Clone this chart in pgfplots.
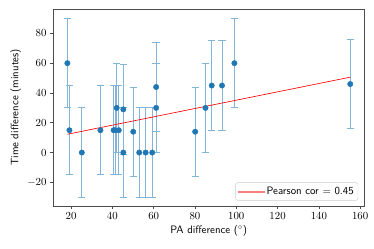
\documentclass[border=0pt]{standalone}
\usepackage{pgfplots}
\pgfplotsset{compat=1.18}
\usepackage{pgfplotstable}
\definecolor{c0}{HTML}{1F77B4}
\colorlet{c0l}{c0!55!white}
\definecolor{legred}{HTML}{FF8080}
\pgfplotstableread{
x y e
18.2 60 30
19.2 15 30
25.2 0 30
34.2 15 30
40.6 15 30
41.3 15 30
42.1 30 30
43.1 15 30
45.3 29 30
45.3 0 30
50.1 14 30
53.0 0 30
56.1 0 30
59.3 0 30
61.2 44 30
61.2 30 30
80.1 14 30
85.1 30 30
88.1 45 30
93.1 45 30
99.1 60 30
155.2 46 30
}\pts
\begin{document}
\begin{tikzpicture}
\begin{axis}[
  scale only axis,
  width=288pt, height=182.4pt,
  xmin=11.4, xmax=162, ymin=-35.8, ymax=96.4,
  xtick={20,40,...,160}, ytick={-20,0,20,40,60,80},
  tick align=outside, major tick length=2.8pt,
  tick style={black!70, line width=0.6pt},
  axis line style={black!70, line width=0.6pt},
  xtick pos=bottom, ytick pos=left,
  xlabel={\sffamily PA difference ($^\circ$)},
  ylabel={\sffamily Time difference (minutes)},
  xlabel style={yshift=2pt},
  ylabel style={yshift=-1pt},
  legend cell align=left,
  legend style={at={(1,0)}, anchor=south east, xshift=-5.6pt, yshift=4.9pt,
    draw=black!20, rounded corners=2pt, inner sep=2pt,
    font=\sffamily, row sep=2pt},
]
\addplot[only marks, mark=*, mark size=2.5pt, mark options={fill=c0, draw=c0},
  forget plot,
  error bars/.cd, y dir=both, y explicit,
  error bar style={c0l, line width=0.9pt},
  error mark options={rotate=90, mark size=3.4pt, c0l, line width=0.9pt}]
  table[x=x, y=y, y error=e] {\pts};
\addplot[red, line width=0.6pt, legend image code/.code={\fill[legred, rounded corners=0pt] (0cm,-0.3pt) rectangle (0.85cm,0.3pt);}] coordinates {(18.2,12.3) (155.2,50.6)};
\addlegendentry{Pearson cor $=$ 0.45}
\end{axis}
\pgfresetboundingbox
\useasboundingbox ([xshift=-49.4pt, yshift=-39.8pt]current axis.south west) rectangle ([xshift=9pt, yshift=8.3pt]current axis.north east);
\end{tikzpicture}
\end{document}
